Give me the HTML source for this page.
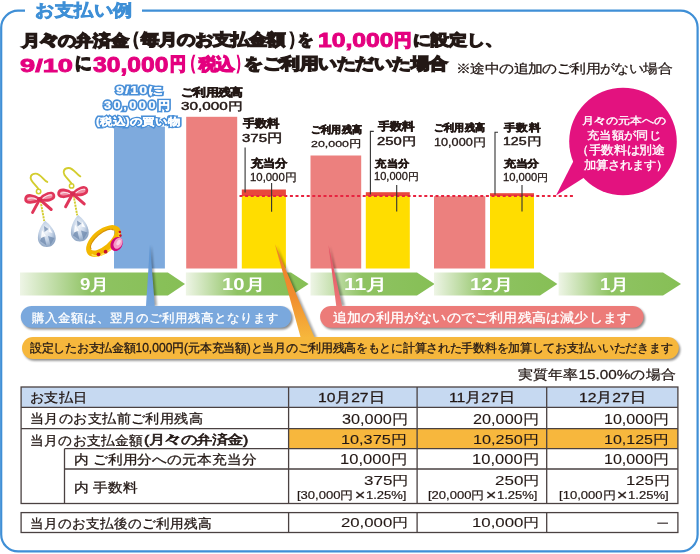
<!DOCTYPE html>
<html lang="ja"><head><meta charset="utf-8"><title>お支払い例</title>
<style>html,body{margin:0;padding:0;background:#fff;}body{width:700px;height:554px;position:relative;overflow:hidden;font-family:'Liberation Sans', sans-serif;}</style>
</head><body>
<svg width="700" height="554" viewBox="0 0 700 554" style="position:absolute;left:0;top:0">
<defs>
<linearGradient id="gA" x1="0" x2="1" y1="0" y2="0"><stop offset="0" stop-color="#eef5e6"/><stop offset="0.42" stop-color="#8fc363"/><stop offset="1" stop-color="#86bf55"/></linearGradient>
<linearGradient id="gO" x1="0" x2="0" y1="0" y2="1"><stop offset="0" stop-color="#ee7d2a"/><stop offset="0.55" stop-color="#f08d2e"/><stop offset="1" stop-color="#f6b73c"/></linearGradient>
<linearGradient id="gP" x1="0" x2="0" y1="0" y2="1"><stop offset="0" stop-color="#e64860"/><stop offset="1" stop-color="#ec7a78"/></linearGradient>
<linearGradient id="gB" x1="0" x2="0" y1="0" y2="1"><stop offset="0" stop-color="#5a93d3"/><stop offset="1" stop-color="#77a6dc"/></linearGradient>
<filter id="sh" x="-10%" y="-30%" width="120%" height="180%"><feGaussianBlur stdDeviation="1.3"/></filter>
<radialGradient id="gem" cx="0.45" cy="0.4" r="0.6"><stop offset="0" stop-color="#f4f7fb"/><stop offset="0.6" stop-color="#c3d2e6"/><stop offset="1" stop-color="#8fa6c4"/></radialGradient>
</defs>
<path d="M25 10.6 H18 A17 17 0 0 0 1.2 27.6 V534.4 A17 17 0 0 0 18.2 551.4 H680.6 A17 17 0 0 0 697.6 534.4 V27.6 A17 17 0 0 0 680.6 10.6 H142" fill="none" stroke="#3f8fd6" stroke-width="2.2"/>
<rect x="114" y="126.6" width="50.9" height="141.9" fill="#7eaadd"/>
<rect x="186.2" y="116.8" width="51" height="151.7" fill="#ec807e"/>
<rect x="241.8" y="189.5" width="44.1" height="7" fill="#e8473c"/>
<rect x="241.8" y="196" width="44.1" height="72.5" fill="#ffdd00"/>
<rect x="310.5" y="155.5" width="50.7" height="113" fill="#ec807e"/>
<rect x="365.8" y="192.2" width="44" height="4.5" fill="#e8473c"/>
<rect x="365.8" y="196" width="44" height="72.5" fill="#ffdd00"/>
<rect x="434" y="196.2" width="51.3" height="72.3" fill="#ec807e"/>
<rect x="490" y="193.2" width="44" height="3.5" fill="#e8473c"/>
<rect x="490" y="196" width="44" height="72.5" fill="#ffdd00"/>
<line x1="239.5" y1="195.9" x2="575" y2="195.9" stroke="#e8233f" stroke-width="2" stroke-dasharray="3 2.6"/>
<path d="M245.1 147.4 V192.5" stroke="#333" stroke-width="1.1" fill="none"/>
<path d="M271.6 183 V211.8" stroke="#333" stroke-width="1.1" fill="none"/>
<path d="M373.8 131.4 H370.4 V194.6" stroke="#333" stroke-width="1.1" fill="none"/>
<path d="M396.7 185.1 V211.4" stroke="#333" stroke-width="1.1" fill="none"/>
<path d="M498 132.3 H495 V194.5" stroke="#333" stroke-width="1.1" fill="none"/>
<path d="M522 185 V211.5" stroke="#333" stroke-width="1.1" fill="none"/>
<path d="M556 195.6 L574 160 L585 177 Z" fill="#e3127f"/>
<circle cx="623" cy="141.5" r="53.8" fill="#e3127f"/>
<path d="M20 272.5 H167.9 L185 283.9 L167.9 295.4 H20 Z" fill="url(#gA)"/>
<path d="M185.9 272.5 H291 L308.6 283.9 L291 295.4 H185.9 Z" fill="url(#gA)"/>
<path d="M310.5 272.5 H417 L434.6 283.9 L417 295.4 H310.5 Z" fill="url(#gA)"/>
<path d="M434 272.5 H540 L557.4 283.9 L540 295.4 H434 Z" fill="url(#gA)"/>
<path d="M558.6 272.5 H663 L681 283.9 L663 295.4 H558.6 Z" fill="url(#gA)"/>
<g filter="url(#sh)" fill="#000" opacity="0.45">
<rect x="22.3" y="307.6" width="270.6" height="21.8" rx="10.9"/>
<rect x="321.6" y="307.6" width="323.5" height="21.8" rx="10.9"/>
<rect x="23.5" y="338.8" width="656.8" height="21.9" rx="10.9"/>
</g>
<g filter="url(#sh)" fill="#000" opacity="0.35">
<path d="M151.5 245 L157 306 L148 306 Z"/>
<path d="M276.5 245 L317 338 L303 338 Z"/>
<path d="M330 246 L345 306 L338 306 Z"/>
</g>
<path d="M150 244.4 L154.8 306 L146 306 Z" fill="url(#gB)"/>
<path d="M274.9 243.9 L314.7 338 L300.8 338 Z" fill="url(#gO)"/>
<path d="M328.5 244.9 L342.3 307 L336.4 307 Z" fill="url(#gP)"/>
<rect x="20.8" y="305.9" width="270.6" height="21.8" rx="10.9" fill="#7aa8dd"/>
<rect x="320.1" y="305.9" width="323.5" height="21.8" rx="10.9" fill="#ec7b79"/>
<rect x="22" y="337" width="656.8" height="21.9" rx="10.9" fill="#f6b73c"/>
<rect x="21.1" y="387" width="656.8" height="20.3" fill="#c6d9f1"/>
<rect x="288.6" y="428.6" width="389.3" height="20.1" fill="#f7b73d"/>
<g stroke="#4a4141" stroke-width="1.3" fill="none">
<rect x="21.1" y="387" width="656.8" height="116.5"/>
<path d="M21.1 407.3 H677.9 M21.1 428.6 H677.9 M64.5 448.7 H677.9 M64.5 469 H677.9 M64.5 448.7 V503.5"/>
<path d="M288.6 387 V503.5 M417.1 387 V503.5 M546.7 387 V503.5"/>
<rect x="21.1" y="512.6" width="656.8" height="19.9"/>
<path d="M288.6 512.6 V532.5 M417.1 512.6 V532.5 M546.7 512.6 V532.5"/>
</g>
<line x1="657.3" y1="523.2" x2="668" y2="523.2" stroke="#4a4141" stroke-width="1.3"/>
<g transform="translate(0 0)">
<path d="M47.3 181.9 C43.5 180.5 41 173.8 35.6 173.6 C31 173.5 29.6 177.3 31.4 180.3 C33.2 183.3 36.4 186 38.4 189" fill="none" stroke="#d3cd2e" stroke-width="1.9" stroke-linecap="round"/>
<circle cx="38.6" cy="191.5" r="2.2" fill="none" stroke="#d3cd2e" stroke-width="1.5"/>
<path d="M40.6 201 L44.2 221" stroke="#d3cd2e" stroke-width="1.9" stroke-dasharray="2.2 0.9"/>
<g fill="#f08ea4" stroke="#e0365a" stroke-width="2.7" stroke-linejoin="round" stroke-linecap="round">
<path d="M39.7 199.4 C34 195 26.5 193.6 25.6 198.6 C24.8 203.4 33 203.6 39.7 199.4 Z"/>
<path d="M39.7 199.4 C44 194 52.5 190.6 53.8 195.2 C55 200 46.5 201.6 39.7 199.4 Z"/>
<path d="M39.7 199.4 L32.6 212.4 M39.7 199.4 L51.2 209.5" fill="none" stroke-width="3"/>
<path d="M28 198.8 C31 197.6 34 198 36.5 199.3 M43 198.3 C46 196 49.5 194.6 51.8 195" fill="none" stroke="#fbe3ea" stroke-width="1.1"/>
</g>
<circle cx="39.7" cy="199.2" r="2.3" fill="#d62c52"/>
<path d="M45.2 220.7 C49.5 224 55.7 231 55.7 238 C55.7 243.6 51.6 247 46.8 247 C42 247 37.9 243.6 37.9 238 C37.9 231 41.5 224.5 45.2 220.7 Z" fill="url(#gem)"/>
<path d="M40 241 L43.5 233 L46.5 245.5 Z M48 236 L54.5 238 L50.5 245 Z M44 226 L48.5 229 L44.5 232 Z" fill="#6f89ad" opacity="0.75"/>
<path d="M42 230 L46 236 L41 238 Z M49 227 L52.5 233 L48.5 232 Z" fill="#fff" opacity="0.9"/>
</g>
<g transform="translate(33 -5.6)">
<path d="M47.3 181.9 C43.5 180.5 41 173.8 35.6 173.6 C31 173.5 29.6 177.3 31.4 180.3 C33.2 183.3 36.4 186 38.4 189" fill="none" stroke="#d3cd2e" stroke-width="1.9" stroke-linecap="round"/>
<circle cx="38.6" cy="191.5" r="2.2" fill="none" stroke="#d3cd2e" stroke-width="1.5"/>
<path d="M40.6 201 L44.2 221" stroke="#d3cd2e" stroke-width="1.9" stroke-dasharray="2.2 0.9"/>
<g fill="#f08ea4" stroke="#e0365a" stroke-width="2.7" stroke-linejoin="round" stroke-linecap="round">
<path d="M39.7 199.4 C34 195 26.5 193.6 25.6 198.6 C24.8 203.4 33 203.6 39.7 199.4 Z"/>
<path d="M39.7 199.4 C44 194 52.5 190.6 53.8 195.2 C55 200 46.5 201.6 39.7 199.4 Z"/>
<path d="M39.7 199.4 L32.6 212.4 M39.7 199.4 L51.2 209.5" fill="none" stroke-width="3"/>
<path d="M28 198.8 C31 197.6 34 198 36.5 199.3 M43 198.3 C46 196 49.5 194.6 51.8 195" fill="none" stroke="#fbe3ea" stroke-width="1.1"/>
</g>
<circle cx="39.7" cy="199.2" r="2.3" fill="#d62c52"/>
<path d="M45.2 220.7 C49.5 224 55.7 231 55.7 238 C55.7 243.6 51.6 247 46.8 247 C42 247 37.9 243.6 37.9 238 C37.9 231 41.5 224.5 45.2 220.7 Z" fill="url(#gem)"/>
<path d="M40 241 L43.5 233 L46.5 245.5 Z M48 236 L54.5 238 L50.5 245 Z M44 226 L48.5 229 L44.5 232 Z" fill="#6f89ad" opacity="0.75"/>
<path d="M42 230 L46 236 L41 238 Z M49 227 L52.5 233 L48.5 232 Z" fill="#fff" opacity="0.9"/>
</g>
<g transform="rotate(-40 103.5 241)">
<path fill-rule="evenodd" fill="#f3b800" d="M83 241 A20.5 11.6 0 1 0 124 241 A20.5 11.6 0 1 0 83 241 Z M88.5 239.3 A15 6.4 0 1 0 118.5 239.3 A15 6.4 0 1 0 88.5 239.3 Z"/>
<path fill="none" stroke="#ffe14a" stroke-width="1.6" d="M86 243.5 A17.5 8.5 0 0 0 121 243.5"/>
<path fill="none" stroke="#d99200" stroke-width="1.2" d="M88.8 239.3 A14.7 6.2 0 0 1 118.2 239.3"/>
</g>
<circle cx="98.5" cy="254.3" r="1.9" fill="#c4102e"/><circle cx="105.6" cy="251.7" r="1.9" fill="#c4102e"/>
<circle cx="119.8" cy="232" r="1.3" fill="#c4102e"/><circle cx="120.4" cy="235.6" r="1.3" fill="#c4102e"/>
<ellipse cx="116.6" cy="244" rx="5.8" ry="7.4" transform="rotate(28 116.6 244)" fill="#d0087a"/>
<ellipse cx="118" cy="243.3" rx="4.1" ry="5.9" transform="rotate(28 118 243.3)" fill="#f59bc6"/>
<ellipse cx="118.6" cy="242.5" rx="1.8" ry="3" transform="rotate(28 118.6 242.5)" fill="#fbd0e4"/>
</svg>
<div style="position:absolute;left:34.90px;top:1.82px;font-size:18.72px;font-weight:bold;line-height:1;white-space:nowrap;color:#3e8fd6;transform-origin:0 0;transform:scale(1.0284,0.9200);-webkit-text-stroke:0.8px currentColor;">お支払い例</div>
<div style="position:absolute;left:22.09px;top:34.16px;font-size:16.84px;font-weight:bold;line-height:1;white-space:nowrap;color:#231815;transform-origin:0 0;transform:scale(1.0448,0.9211);-webkit-text-stroke:1.5px currentColor;">月<span style="display:inline-block;transform:scaleX(1.45) scaleY(1.35)">々</span>の弁済金</div>
<div style="position:absolute;left:125.24px;top:31.20px;font-size:17.9px;font-weight:bold;line-height:1;white-space:nowrap;color:#231815;transform-origin:0 0;transform:scale(0.7857,0.9889);-webkit-text-stroke:1.5px currentColor;">（</div>
<div style="position:absolute;left:141.36px;top:33.24px;font-size:16.84px;font-weight:bold;line-height:1;white-space:nowrap;color:#231815;transform-origin:0 0;transform:scale(1.0609,0.9211);-webkit-text-stroke:1.5px currentColor;">毎月のお支払金額</div>
<div style="position:absolute;left:288.57px;top:31.20px;font-size:17.9px;font-weight:bold;line-height:1;white-space:nowrap;color:#231815;transform-origin:0 0;transform:scale(0.7286,0.9889);-webkit-text-stroke:1.5px currentColor;">）</div>
<div style="position:absolute;left:298.30px;top:32.83px;font-size:16.88px;font-weight:bold;line-height:1;white-space:nowrap;color:#231815;transform-origin:0 0;transform:scale(0.8824,0.9278);-webkit-text-stroke:1.5px currentColor;">を</div>
<div style="position:absolute;left:318.00px;top:29.88px;font-size:20.12px;font-weight:bold;line-height:1;white-space:nowrap;color:#e4007f;transform-origin:0 0;transform:scale(1.2279,1.0125);-webkit-text-stroke:0.9px currentColor;">10,000</div>
<div style="position:absolute;left:394.10px;top:32.88px;font-size:16.88px;font-weight:bold;line-height:1;white-space:nowrap;color:#e4007f;transform-origin:0 0;transform:scale(1.0187,0.9824);-webkit-text-stroke:1.5px currentColor;">円</div>
<div style="position:absolute;left:413.40px;top:34.02px;font-size:16.84px;font-weight:bold;line-height:1;white-space:nowrap;color:#231815;transform-origin:0 0;transform:scale(1.0541,0.8750);-webkit-text-stroke:1.5px currentColor;">に設定し、</div>
<div style="position:absolute;left:20.10px;top:55.90px;font-size:19.7px;font-weight:bold;line-height:1;white-space:nowrap;color:#e4007f;transform-origin:0 0;transform:scale(1.3816,0.9706);-webkit-text-stroke:0.9px currentColor;">9/10</div>
<div style="position:absolute;left:74.70px;top:55.31px;font-size:17.89px;font-weight:bold;line-height:1;white-space:nowrap;color:#231815;transform-origin:0 0;transform:scale(0.9056,0.9875);-webkit-text-stroke:1.5px currentColor;">に</div>
<div style="position:absolute;left:92.70px;top:52.77px;font-size:21.84px;font-weight:bold;line-height:1;white-space:nowrap;color:#e4007f;transform-origin:0 0;transform:scale(1.1284,1.0437);-webkit-text-stroke:0.9px currentColor;">30,000</div>
<div style="position:absolute;left:170.40px;top:55.50px;font-size:17.27px;font-weight:bold;line-height:1;white-space:nowrap;color:#e4007f;transform-origin:0 0;transform:scale(0.9125,1.0294);-webkit-text-stroke:1.5px currentColor;">円</div>
<div style="position:absolute;left:184.07px;top:53.97px;font-size:18.25px;font-weight:bold;line-height:1;white-space:nowrap;color:#e4007f;transform-origin:0 0;transform:scale(0.6429,1.0278);-webkit-text-stroke:1.5px currentColor;">（</div>
<div style="position:absolute;left:199.03px;top:56.47px;font-size:17.27px;font-weight:bold;line-height:1;white-space:nowrap;color:#e4007f;transform-origin:0 0;transform:scale(1.0132,0.9722);-webkit-text-stroke:1.5px currentColor;">税込</div>
<div style="position:absolute;left:236.43px;top:53.97px;font-size:18.25px;font-weight:bold;line-height:1;white-space:nowrap;color:#e4007f;transform-origin:0 0;transform:scale(0.5714,1.0278);-webkit-text-stroke:1.5px currentColor;">）</div>
<div style="position:absolute;left:244.40px;top:57.25px;font-size:16.89px;font-weight:bold;line-height:1;white-space:nowrap;color:#231815;transform-origin:0 0;transform:scale(1.0910,0.9263);-webkit-text-stroke:1.5px currentColor;">をご利用いただいた場合</div>
<div style="position:absolute;left:455.90px;top:61.60px;font-size:12.37px;font-weight:normal;line-height:1;white-space:nowrap;color:#231815;transform-origin:0 0;transform:scale(1.2000,1.0500);-webkit-text-stroke:0.25px currentColor;">※途中の追加のご利用がない場合</div>
<div style="position:absolute;left:115.57px;top:85.16px;font-size:12.2px;font-weight:bold;line-height:1;white-space:nowrap;transform-origin:0 0;transform:scale(1.1667,0.8600);color:#4a90d8;-webkit-text-stroke:3.6px #4a90d8;letter-spacing:1px;">9/10に</div>
<div style="position:absolute;left:115.57px;top:85.16px;font-size:12.2px;font-weight:bold;line-height:1;white-space:nowrap;color:#fff;transform-origin:0 0;transform:scale(1.1667,0.8600);-webkit-text-stroke:0.25px #fff;letter-spacing:1px;">9/10に</div>
<div style="position:absolute;left:104.03px;top:99.93px;font-size:12.24px;font-weight:bold;line-height:1;white-space:nowrap;transform-origin:0 0;transform:scale(1.0303,0.9286);color:#4a90d8;-webkit-text-stroke:3.6px #4a90d8;letter-spacing:2.5px;">30,000円</div>
<div style="position:absolute;left:104.03px;top:99.93px;font-size:12.24px;font-weight:bold;line-height:1;white-space:nowrap;color:#fff;transform-origin:0 0;transform:scale(1.0303,0.9286);-webkit-text-stroke:0.25px #fff;letter-spacing:2.5px;">30,000円</div>
<div style="position:absolute;left:96.06px;top:117.00px;font-size:11.8px;font-weight:bold;line-height:1;white-space:nowrap;transform-origin:0 0;transform:scale(1.0561,0.8500);color:#4a90d8;-webkit-text-stroke:3.6px #4a90d8;">(税込)の買い物</div>
<div style="position:absolute;left:96.06px;top:117.00px;font-size:11.8px;font-weight:bold;line-height:1;white-space:nowrap;color:#fff;transform-origin:0 0;transform:scale(1.0561,0.8500);-webkit-text-stroke:0.25px #fff;">(税込)の買い物</div>
<div style="position:absolute;left:180.80px;top:86.76px;font-size:11.33px;font-weight:bold;line-height:1;white-space:nowrap;color:#231815;transform-origin:0 0;transform:scale(1.1200,0.9583);-webkit-text-stroke:0.6px currentColor;">ご利用残高</div>
<div style="position:absolute;left:181.10px;top:100.60px;font-size:12.08px;font-weight:normal;line-height:1;white-space:nowrap;color:#231815;transform-origin:0 0;transform:scale(1.2646,0.9333);-webkit-text-stroke:0.45px currentColor;">30,000円</div>
<div style="position:absolute;left:242.91px;top:118.70px;font-size:11.86px;font-weight:bold;line-height:1;white-space:nowrap;color:#231815;transform-origin:0 0;transform:scale(1.0135,0.9000);-webkit-text-stroke:0.6px currentColor;">手数料</div>
<div style="position:absolute;left:242.30px;top:131.90px;font-size:12.18px;font-weight:normal;line-height:1;white-space:nowrap;color:#231815;transform-origin:0 0;transform:scale(1.2323,0.9500);-webkit-text-stroke:0.45px currentColor;">375円</div>
<div style="position:absolute;left:250.99px;top:158.88px;font-size:11.81px;font-weight:bold;line-height:1;white-space:nowrap;color:#231815;transform-origin:0 0;transform:scale(0.9947,0.8923);-webkit-text-stroke:0.6px currentColor;">充当分</div>
<div style="position:absolute;left:250.40px;top:172.10px;font-size:11.17px;font-weight:normal;line-height:1;white-space:nowrap;color:#231815;transform-origin:0 0;transform:scale(1.0182,0.9455);-webkit-text-stroke:0.3px currentColor;">10,000円</div>
<div style="position:absolute;left:310.60px;top:124.52px;font-size:10.58px;font-weight:bold;line-height:1;white-space:nowrap;color:#231815;transform-origin:0 0;transform:scale(0.9273,0.9250);-webkit-text-stroke:0.6px currentColor;">ご利用残高</div>
<div style="position:absolute;left:311.00px;top:139.00px;font-size:10.65px;font-weight:normal;line-height:1;white-space:nowrap;color:#231815;transform-origin:0 0;transform:scale(1.1651,0.9364);-webkit-text-stroke:0.3px currentColor;">20,000円</div>
<div style="position:absolute;left:378.22px;top:121.78px;font-size:11.81px;font-weight:bold;line-height:1;white-space:nowrap;color:#231815;transform-origin:0 0;transform:scale(1.0162,0.8923);-webkit-text-stroke:0.6px currentColor;">手数料</div>
<div style="position:absolute;left:377.20px;top:135.60px;font-size:12.08px;font-weight:normal;line-height:1;white-space:nowrap;color:#231815;transform-origin:0 0;transform:scale(1.2258,0.9333);-webkit-text-stroke:0.45px currentColor;">250円</div>
<div style="position:absolute;left:374.77px;top:158.36px;font-size:11.6px;font-weight:bold;line-height:1;white-space:nowrap;color:#231815;transform-origin:0 0;transform:scale(0.9737,0.8615);-webkit-text-stroke:0.6px currentColor;">充当分</div>
<div style="position:absolute;left:374.20px;top:172.10px;font-size:11.01px;font-weight:normal;line-height:1;white-space:nowrap;color:#231815;transform-origin:0 0;transform:scale(1.0068,0.9182);-webkit-text-stroke:0.3px currentColor;">10,000円</div>
<div style="position:absolute;left:433.60px;top:122.52px;font-size:10.58px;font-weight:bold;line-height:1;white-space:nowrap;color:#231815;transform-origin:0 0;transform:scale(0.9273,0.9250);-webkit-text-stroke:0.6px currentColor;">ご利用残高</div>
<div style="position:absolute;left:434.40px;top:136.60px;font-size:10.86px;font-weight:normal;line-height:1;white-space:nowrap;color:#231815;transform-origin:0 0;transform:scale(1.1674,0.9727);-webkit-text-stroke:0.3px currentColor;">10,000円</div>
<div style="position:absolute;left:503.72px;top:121.88px;font-size:11.71px;font-weight:bold;line-height:1;white-space:nowrap;color:#231815;transform-origin:0 0;transform:scale(1.0243,0.8769);-webkit-text-stroke:0.6px currentColor;">手数料</div>
<div style="position:absolute;left:503.40px;top:137.09px;font-size:11.8px;font-weight:normal;line-height:1;white-space:nowrap;color:#231815;transform-origin:0 0;transform:scale(1.2000,0.8917);-webkit-text-stroke:0.45px currentColor;">125円</div>
<div style="position:absolute;left:503.77px;top:159.19px;font-size:11.34px;font-weight:bold;line-height:1;white-space:nowrap;color:#231815;transform-origin:0 0;transform:scale(1.0657,0.8917);-webkit-text-stroke:0.6px currentColor;">充当分</div>
<div style="position:absolute;left:502.70px;top:173.40px;font-size:11.01px;font-weight:normal;line-height:1;white-space:nowrap;color:#231815;transform-origin:0 0;transform:scale(1.0205,0.9182);-webkit-text-stroke:0.3px currentColor;">10,000円</div>
<div style="position:absolute;left:581.50px;top:115.90px;font-size:10.9px;font-weight:normal;line-height:1;white-space:nowrap;color:#fff;transform-origin:0 0;transform:scale(1.0870,0.9000);-webkit-text-stroke:0.35px currentColor;">月<span style="display:inline-block;transform:scaleX(1.45) scaleY(1.35)">々</span>の元本への</div>
<div style="position:absolute;left:586.70px;top:130.93px;font-size:11.54px;font-weight:normal;line-height:1;white-space:nowrap;color:#fff;transform-origin:0 0;transform:scale(1.0286,0.9250);-webkit-text-stroke:0.35px currentColor;">充当額が同じ</div>
<div style="position:absolute;left:576.40px;top:144.98px;font-size:11.9px;font-weight:normal;line-height:1;white-space:nowrap;color:#fff;transform-origin:0 0;transform:scale(1.0571,0.9833);-webkit-text-stroke:0.35px currentColor;">（手数料は別途</div>
<div style="position:absolute;left:583.80px;top:160.28px;font-size:11.85px;font-weight:normal;line-height:1;white-space:nowrap;color:#fff;transform-origin:0 0;transform:scale(1.0039,0.9750);-webkit-text-stroke:0.35px currentColor;">加算されます）</div>
<div style="position:absolute;left:80.00px;top:275.96px;font-size:15.32px;font-weight:bold;line-height:1;white-space:nowrap;color:#fff;transform-origin:0 0;transform:scale(1.2238,1.0429);">9月</div>
<div style="position:absolute;left:221.58px;top:275.96px;font-size:15.32px;font-weight:bold;line-height:1;white-space:nowrap;color:#fff;transform-origin:0 0;transform:scale(1.3250,1.0429);">10月</div>
<div style="position:absolute;left:344.32px;top:275.96px;font-size:15.32px;font-weight:bold;line-height:1;white-space:nowrap;color:#fff;transform-origin:0 0;transform:scale(1.3778,1.0429);">11月</div>
<div style="position:absolute;left:470.07px;top:275.96px;font-size:15.32px;font-weight:bold;line-height:1;white-space:nowrap;color:#fff;transform-origin:0 0;transform:scale(1.3286,1.0429);">12月</div>
<div style="position:absolute;left:600.18px;top:275.96px;font-size:15.32px;font-weight:bold;line-height:1;white-space:nowrap;color:#fff;transform-origin:0 0;transform:scale(1.2150,1.0429);">1月</div>
<div style="position:absolute;left:32.30px;top:311.87px;font-size:12.8px;font-weight:normal;line-height:1;white-space:nowrap;color:#fff;transform-origin:0 0;transform:scale(1.0012,0.9692);-webkit-text-stroke:0.3px currentColor;">購入金額は、翌月のご利用残高となります</div>
<div style="position:absolute;left:332.60px;top:310.50px;font-size:13.1px;font-weight:normal;line-height:1;white-space:nowrap;color:#fff;transform-origin:0 0;transform:scale(1.0919,1.0154);-webkit-text-stroke:0.3px currentColor;">追加の利用がないのでご利用残高は減少します</div>
<div style="position:absolute;left:30.40px;top:342.30px;font-size:12.38px;font-weight:normal;line-height:1;white-space:nowrap;color:#231815;transform-origin:0 0;transform:scale(0.9760,0.9769);-webkit-text-stroke:0.3px currentColor;">設定したお支払金額10,000円(元本充当額)と当月のご利用残高をもとに計算された手数料を加算してお支払いいただきます</div>
<div style="position:absolute;left:518.40px;top:367.60px;font-size:13.13px;font-weight:normal;line-height:1;white-space:nowrap;color:#231815;transform-origin:0 0;transform:scale(1.1647,1.0154);-webkit-text-stroke:0.25px currentColor;">実質年率15.00%の場合</div>
<div style="position:absolute;left:29.57px;top:392.35px;font-size:13.65px;font-weight:normal;line-height:1;white-space:nowrap;color:#231815;transform-origin:0 0;transform:scale(1.0321,0.9500);-webkit-text-stroke:0.3px currentColor;">お支払日</div>
<div style="position:absolute;left:29.57px;top:413.35px;font-size:13.65px;font-weight:normal;line-height:1;white-space:nowrap;color:#231815;transform-origin:0 0;transform:scale(1.0307,0.9500);-webkit-text-stroke:0.3px currentColor;">当月のお支払前ご利用残高</div>
<div style="position:absolute;left:29.59px;top:433.56px;font-size:13.7px;font-weight:normal;line-height:1;white-space:nowrap;color:#231815;transform-origin:0 0;transform:scale(1.0126,0.9571);-webkit-text-stroke:0.3px currentColor;">当月のお支払金額</div>
<div style="position:absolute;left:143.50px;top:432.60px;font-size:13.23px;font-weight:normal;line-height:1;white-space:nowrap;color:#231815;transform-origin:0 0;transform:scale(1.2011,0.9571);-webkit-text-stroke:0.6px currentColor;">(月<span style="display:inline-block;transform:scaleX(1.45) scaleY(1.35)">々</span>の弁済金)</div>
<div style="position:absolute;left:73.84px;top:454.04px;font-size:13.59px;font-weight:normal;line-height:1;white-space:nowrap;color:#231815;transform-origin:0 0;transform:scale(1.0620,0.9429);-webkit-text-stroke:0.3px currentColor;">内 ご利用分への元本充当分</div>
<div style="position:absolute;left:73.84px;top:482.04px;font-size:13.59px;font-weight:normal;line-height:1;white-space:nowrap;color:#231815;transform-origin:0 0;transform:scale(1.0644,0.9429);-webkit-text-stroke:0.3px currentColor;">内 手数料</div>
<div style="position:absolute;left:29.60px;top:516.96px;font-size:13.7px;font-weight:normal;line-height:1;white-space:nowrap;color:#231815;transform-origin:0 0;transform:scale(0.9983,0.9571);-webkit-text-stroke:0.3px currentColor;">当月のお支払後のご利用残高</div>
<div style="position:absolute;left:317.67px;top:391.40px;font-size:13.89px;font-weight:normal;line-height:1;white-space:nowrap;color:#231815;transform-origin:0 0;transform:scale(1.1268,0.9846);-webkit-text-stroke:0.3px currentColor;">10月27日</div>
<div style="position:absolute;left:449.47px;top:391.40px;font-size:13.89px;font-weight:normal;line-height:1;white-space:nowrap;color:#231815;transform-origin:0 0;transform:scale(1.1327,0.9846);-webkit-text-stroke:0.3px currentColor;">11月27日</div>
<div style="position:absolute;left:579.47px;top:391.40px;font-size:13.89px;font-weight:normal;line-height:1;white-space:nowrap;color:#231815;transform-origin:0 0;transform:scale(1.1286,0.9846);-webkit-text-stroke:0.3px currentColor;">12月27日</div>
<div style="position:absolute;left:341.50px;top:411.90px;font-size:14.0px;font-weight:normal;line-height:1;white-space:nowrap;color:#231815;transform-origin:0 0;transform:scale(1.1607,1.0000);-webkit-text-stroke:0.1px currentColor;">30,000円</div>
<div style="position:absolute;left:473.00px;top:411.90px;font-size:14.0px;font-weight:normal;line-height:1;white-space:nowrap;color:#231815;transform-origin:0 0;transform:scale(1.1607,1.0000);-webkit-text-stroke:0.1px currentColor;">20,000円</div>
<div style="position:absolute;left:603.75px;top:411.90px;font-size:14.0px;font-weight:normal;line-height:1;white-space:nowrap;color:#231815;transform-origin:0 0;transform:scale(1.1473,1.0000);-webkit-text-stroke:0.1px currentColor;">10,000円</div>
<div style="position:absolute;left:341.31px;top:432.90px;font-size:13.73px;font-weight:normal;line-height:1;white-space:nowrap;color:#231815;transform-origin:0 0;transform:scale(1.1852,0.9615);-webkit-text-stroke:0.1px currentColor;">10,375円</div>
<div style="position:absolute;left:472.81px;top:432.90px;font-size:13.73px;font-weight:normal;line-height:1;white-space:nowrap;color:#231815;transform-origin:0 0;transform:scale(1.1852,0.9615);-webkit-text-stroke:0.1px currentColor;">10,250円</div>
<div style="position:absolute;left:603.73px;top:432.90px;font-size:13.73px;font-weight:normal;line-height:1;white-space:nowrap;color:#231815;transform-origin:0 0;transform:scale(1.1685,0.9615);-webkit-text-stroke:0.1px currentColor;">10,125円</div>
<div style="position:absolute;left:340.32px;top:452.00px;font-size:14.0px;font-weight:normal;line-height:1;white-space:nowrap;color:#231815;transform-origin:0 0;transform:scale(1.1818,1.0000);-webkit-text-stroke:0.1px currentColor;">10,000円</div>
<div style="position:absolute;left:471.82px;top:452.00px;font-size:14.0px;font-weight:normal;line-height:1;white-space:nowrap;color:#231815;transform-origin:0 0;transform:scale(1.1818,1.0000);-webkit-text-stroke:0.1px currentColor;">10,000円</div>
<div style="position:absolute;left:603.75px;top:452.00px;font-size:14.0px;font-weight:normal;line-height:1;white-space:nowrap;color:#231815;transform-origin:0 0;transform:scale(1.1473,1.0000);-webkit-text-stroke:0.1px currentColor;">10,000円</div>
<div style="position:absolute;left:363.50px;top:474.00px;font-size:13.45px;font-weight:normal;line-height:1;white-space:nowrap;color:#231815;transform-origin:0 0;transform:scale(1.2647,1.0000);-webkit-text-stroke:0.1px currentColor;">375円</div>
<div style="position:absolute;left:495.00px;top:474.00px;font-size:13.45px;font-weight:normal;line-height:1;white-space:nowrap;color:#231815;transform-origin:0 0;transform:scale(1.2647,1.0000);-webkit-text-stroke:0.1px currentColor;">250円</div>
<div style="position:absolute;left:625.76px;top:474.00px;font-size:13.45px;font-weight:normal;line-height:1;white-space:nowrap;color:#231815;transform-origin:0 0;transform:scale(1.2424,1.0000);-webkit-text-stroke:0.1px currentColor;">125円</div>
<div style="position:absolute;left:297.00px;top:490.00px;font-size:11.0px;font-weight:normal;line-height:1;white-space:nowrap;color:#231815;transform-origin:0 0;transform:scale(1.1848,1.0000);-webkit-text-stroke:0.2px currentColor;">[30,000円<span style="display:inline-block;transform:scale(1.4);margin:0 2px">×</span>1.25%]</div>
<div style="position:absolute;left:428.00px;top:490.00px;font-size:11.0px;font-weight:normal;line-height:1;white-space:nowrap;color:#231815;transform-origin:0 0;transform:scale(1.1848,1.0000);-webkit-text-stroke:0.2px currentColor;">[20,000円<span style="display:inline-block;transform:scale(1.4);margin:0 2px">×</span>1.25%]</div>
<div style="position:absolute;left:558.80px;top:490.00px;font-size:11.0px;font-weight:normal;line-height:1;white-space:nowrap;color:#231815;transform-origin:0 0;transform:scale(1.1870,1.0000);-webkit-text-stroke:0.2px currentColor;">[10,000円<span style="display:inline-block;transform:scale(1.4);margin:0 2px">×</span>1.25%]</div>
<div style="position:absolute;left:340.50px;top:516.00px;font-size:13.45px;font-weight:normal;line-height:1;white-space:nowrap;color:#231815;transform-origin:0 0;transform:scale(1.2453,1.0000);-webkit-text-stroke:0.1px currentColor;">20,000円</div>
<div style="position:absolute;left:471.75px;top:516.00px;font-size:13.45px;font-weight:normal;line-height:1;white-space:nowrap;color:#231815;transform-origin:0 0;transform:scale(1.2500,1.0000);-webkit-text-stroke:0.1px currentColor;">10,000円</div>
</body></html>
